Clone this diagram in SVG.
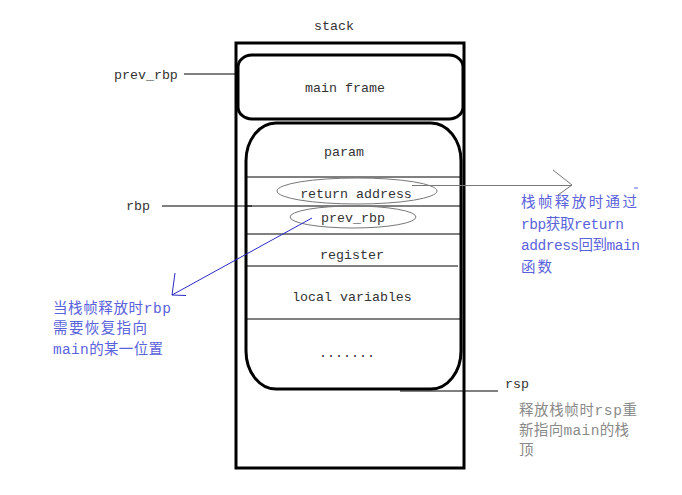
<svg xmlns="http://www.w3.org/2000/svg" width="682" height="495" viewBox="0 0 682 495">
<style>
.t{font-family:"Liberation Mono","Noto Sans CJK SC",monospace;font-size:13.3px;fill:#333}
.c{text-anchor:middle}
.blue{font-family:"Liberation Mono","Noto Sans CJK SC",monospace;font-size:14.5px;fill:#5a62dc}
.gray{font-family:"Liberation Mono","Noto Sans CJK SC",monospace;font-size:14.5px;fill:#8a8a8a}
.box{fill:none;stroke:#000;stroke-width:3}
.ln{stroke:#000;stroke-width:1}
.ell{fill:none;stroke:#777;stroke-width:1}
</style>
<rect width="682" height="495" fill="#fff"/>
<text class="t c" x="334" y="30">stack</text>
<g id="stack">
<rect class="box" x="236" y="43" width="228" height="425"/>
</g>
<g id="main-frame">
<rect class="box" x="238" y="55" width="225" height="64" rx="14" ry="12"/>
<text class="t c" x="345" y="92">main frame</text>
</g>
<g id="frame">
<rect class="box" x="246" y="123" width="215" height="266" rx="30" ry="38"/>
<line class="ln" x1="246" y1="177" x2="460" y2="177"/>
<line class="ln" x1="246" y1="206" x2="460" y2="206"/>
<line class="ln" x1="246" y1="234" x2="460" y2="234"/>
<line class="ln" x1="246" y1="266" x2="458" y2="266"/>
<line class="ln" x1="246" y1="319" x2="460" y2="319"/>
<text class="t c" x="344" y="156">param</text>
</g>
<g id="return-address">
<ellipse class="ell" cx="357" cy="191" rx="80" ry="13"/>
<text class="t c" x="356" y="198">return address</text>
</g>
<g id="prev-rbp-inner">
<ellipse class="ell" cx="353" cy="217" rx="63" ry="11"/>
<text class="t c" x="353" y="222">prev_rbp</text>
</g>
<g id="register"><text class="t c" x="352" y="259">register</text></g>
<g id="locals"><text class="t c" x="352" y="301">local variables</text></g>
<g id="dots"><text class="t c" x="347" y="357">.......</text></g>
<g id="label-prev-rbp"><text class="t" x="114" y="79">prev_rbp</text></g>
<g id="label-rbp"><text class="t" x="126" y="210">rbp</text></g>
<g id="label-rsp"><text class="t" x="505" y="388">rsp</text></g>
<g id="note-right">
<text class="blue" x="521" y="207" textLength="116" lengthAdjust="spacing">栈帧释放时通过</text>
<text class="blue" x="521" y="229" textLength="103" lengthAdjust="spacing">rbp获取return</text>
<text class="blue" x="521" y="250" textLength="119" lengthAdjust="spacing">address回到main</text>
<text class="blue" x="521" y="272" textLength="31" lengthAdjust="spacing">函数</text>
</g>
<g id="note-left">
<text class="blue" x="53" y="313" textLength="118" lengthAdjust="spacing">当栈帧释放时rbp</text>
<text class="blue" x="53" y="333" textLength="94" lengthAdjust="spacing">需要恢复指向</text>
<text class="blue" x="53" y="354" textLength="110" lengthAdjust="spacing">main的某一位置</text>
</g>
<g id="note-rsp">
<text class="gray" x="519" y="415" textLength="118" lengthAdjust="spacing">释放栈帧时rsp重</text>
<text class="gray" x="519" y="435" textLength="110" lengthAdjust="spacing">新指向main的栈</text>
<text class="gray" x="519" y="455" textLength="16" lengthAdjust="spacing">顶</text>
</g>
<g id="connectors">
<line class="ln" x1="184" y1="74" x2="236" y2="74"/>
<line class="ln" x1="162" y1="206" x2="252" y2="206"/>
<line class="ln" x1="400" y1="391" x2="498" y2="391"/>
<line x1="412" y1="185.5" x2="572" y2="185.5" stroke="#777" stroke-width="1"/>
<polyline points="553,170 572,185 558,195" fill="none" stroke="#777" stroke-width="1"/>
<line x1="634" y1="188" x2="638" y2="188" stroke="#5a62dc" stroke-width="1"/>
<line x1="312" y1="218" x2="172" y2="295" stroke="#2a2ac8" stroke-width="1"/>
<polyline points="175,273 172,295 186,295.5" fill="none" stroke="#2a2ac8" stroke-width="1"/>
</g>
</svg>
